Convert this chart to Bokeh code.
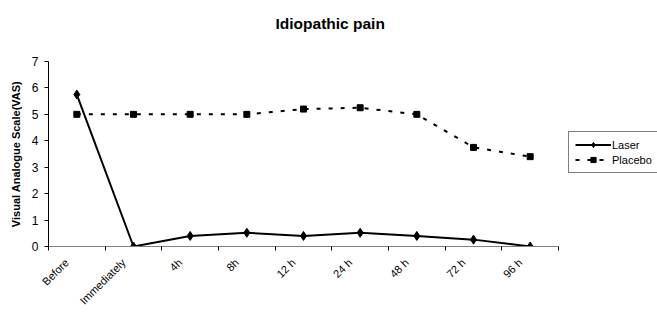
from math import pi
from bokeh.plotting import figure
from bokeh.models import (Range1d, FixedTicker, Legend, LegendItem, Title)
from bokeh.embed import file_html
from bokeh.resources import INLINE

categories = ["Before", "Immediately", "4h", "8h", "12 h", "24 h", "48 h", "72 h", "96 h"]
laser = [5.75, 0.0, 0.4, 0.52, 0.4, 0.52, 0.4, 0.26, 0.0]
placebo = [5.0, 5.0, 5.0, 5.0, 5.2, 5.25, 5.0, 3.75, 3.4]
y_ticks = [0, 1, 2, 3, 4, 5, 6, 7]

FONT = "Liberation Sans"

n = len(categories)
xs = [i + 0.5 for i in range(n)]
AXIS_PX = 510.0   # pixel length of the category axis
FRAME_PX = 609.0  # frame extends to right edge so the legend is not clipped
LABEL_SHIFT = 10.0 / (AXIS_PX / n)  # rotated labels sit left of the category centre
label_pos = [x - LABEL_SHIFT for x in xs]

p = figure(width=657, height=313, output_backend="svg", toolbar_location=None,
           x_range=Range1d(0, n * FRAME_PX / AXIS_PX), y_range=Range1d(0, 7),
           min_border_left=48, min_border_top=61, min_border_right=0,
           min_border_bottom=67)
p.outline_line_color = None
p.xgrid.visible = False
p.ygrid.visible = False
p.background_fill_color = "white"
p.border_fill_color = "white"

# Laser
l1 = p.line(xs, laser, line_color="black", line_width=2)
s1 = p.scatter(xs, laser, marker="diamond", size=9, color="black")
# Placebo
l2 = p.line(xs, placebo, line_color="black", line_width=2, line_dash="4 8")
s2 = p.scatter(xs, placebo, marker="square", size=6, color="black")

# y axis
ya = p.yaxis[0]
ya.ticker = FixedTicker(ticks=y_ticks)
ya.major_tick_out = 4
ya.major_tick_in = 0
ya.minor_tick_out = 0
ya.axis_line_color = "black"
ya.major_label_text_font = FONT
ya.major_label_text_font_size = "12px"
ya.major_label_text_color = "black"
ya.major_label_standoff = 6
ya.axis_label = "Visual Analogue Scale(VAS)"
ya.axis_label_text_font = FONT
ya.axis_label_text_font_style = "bold"
ya.axis_label_text_font_size = "11px"
ya.axis_label_text_color = "black"
ya.axis_label_standoff = 7

# x axis
xa = p.xaxis[0]
xa.bounds = (0, n)
xa.ticker = FixedTicker(ticks=label_pos, minor_ticks=list(range(n + 1)))
xa.major_label_overrides = {x: c for x, c in zip(label_pos, categories)}
xa.major_tick_out = 0
xa.major_tick_in = 0
xa.minor_tick_out = 4
xa.minor_tick_in = 0
xa.minor_tick_line_color = "black"
xa.axis_line_color = "#808080"
xa.major_label_orientation = pi / 4
xa.major_label_text_font = FONT
xa.major_label_text_font_size = "11px"
xa.major_label_text_color = "black"
xa.major_label_standoff = 10

legend = Legend(items=[LegendItem(label="Laser", renderers=[l1, s1]),
                       LegendItem(label="Placebo", renderers=[l2, s2])],
                location=(520, 73))
legend.border_line_color = "black"
legend.border_line_width = 1
legend.background_fill_color = "white"
legend.label_text_font = FONT
legend.label_text_font_size = "11px"
legend.label_text_color = "black"
legend.glyph_width = 36
legend.glyph_height = 13
legend.label_height = 13
legend.label_standoff = 1
legend.spacing = 2
legend.padding = 6
legend.margin = 0
p.add_layout(legend, "center")

title = Title(text="Idiopathic pain", text_font=FONT, text_font_style="bold",
              text_font_size="15.5px", text_color="black", align="left",
              offset=227, standoff=0,
              padding=dict(left=0, right=0, top=0, bottom=30))
p.add_layout(title, "above")

open("out.html", "w").write(file_html(p, INLINE))
